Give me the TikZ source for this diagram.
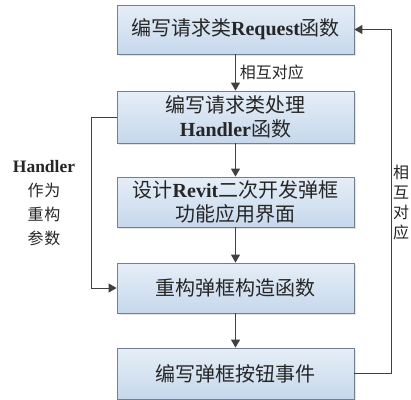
\documentclass[tikz,border=0pt]{standalone}
\usepackage{fontspec}
\setmainfont{Liberation Serif}
\newfontfamily\cjk{Noto Sans CJK SC}
\usetikzlibrary{arrows.meta,shadows}
\definecolor{boxtop}{HTML}{E6EEF7}
\definecolor{boxbot}{HTML}{C6D8EC}
\definecolor{boxline}{HTML}{6F8193}
\definecolor{lineclr}{HTML}{404040}
\definecolor{txt}{HTML}{262626}
\begin{document}
\begin{tikzpicture}[x=1pt,y=-1pt,
  stepbox/.style={draw=boxline, line width=0.8pt, top color=boxtop, bottom color=boxbot,
    minimum width=237pt, inner sep=0pt, align=center, text=txt,
    font=\fontsize{20}{24}\selectfont,
    drop shadow={shadow xshift=1.5pt, shadow yshift=-1.5pt, fill=black!18, opacity=0.6}},
  arr/.style={draw=lineclr, line width=0.9pt, -{Triangle[length=8pt,width=9pt]}},
  lbl/.style={text=txt, inner sep=0pt, align=center}]
\useasboundingbox (0,0) rectangle (411,399);
\fill[white] (0,0) rectangle (411,399);
\node[stepbox, minimum height=49pt] (b1) at (235.5,29.5) {{\cjk 编写请求类}\textbf{Request}{\cjk 函数}};
\node[stepbox, minimum height=52pt] (b2) at (235.5,117) {{\cjk 编写请求类处理}\\\textbf{Handler}{\cjk 函数}};
\node[stepbox, minimum height=50pt] (b3) at (235.5,202) {{\cjk 设计}\textbf{Revit}{\cjk 二次开发弹框}\\{\cjk 功能应用界面}};
\node[stepbox, minimum height=50pt] (b4) at (235.5,288) {{\cjk 重构弹框构造函数}};
\node[stepbox, minimum height=51pt] (b5) at (235.5,373.5) {{\cjk 编写弹框按钮事件}};
\draw[arr] (b1.south) -- node[lbl, right=4pt, font=\fontsize{16}{18}\selectfont\cjk] (l1) {相互对应} (b2.north);
\draw[arr] (b2.south) -- (b3.north);
\draw[arr] (b3.south) -- (b4.north);
\draw[arr] (b4.south) -- (b5.north);
\draw[arr] (b5.east) -- ++(37,0) coordinate (rc) |- (b1.east);
\draw[arr] (b2.west) -- ++(-25,0) coordinate (lc) |- (b4.west);
\node[lbl, font=\fontsize{16}{20}\selectfont\cjk] (l2) at (401,202) {相\\互\\对\\应};
\node[lbl, font=\fontsize{16}{24}\selectfont] (l3) at (44,203) {\fontsize{17.5}{20}\selectfont\textbf{Handler}\\{\cjk 作\hspace{1pt}为}\\{\cjk 重\hspace{1pt}构}\\{\cjk 参\hspace{1pt}数}};
\end{tikzpicture}
\end{document}
